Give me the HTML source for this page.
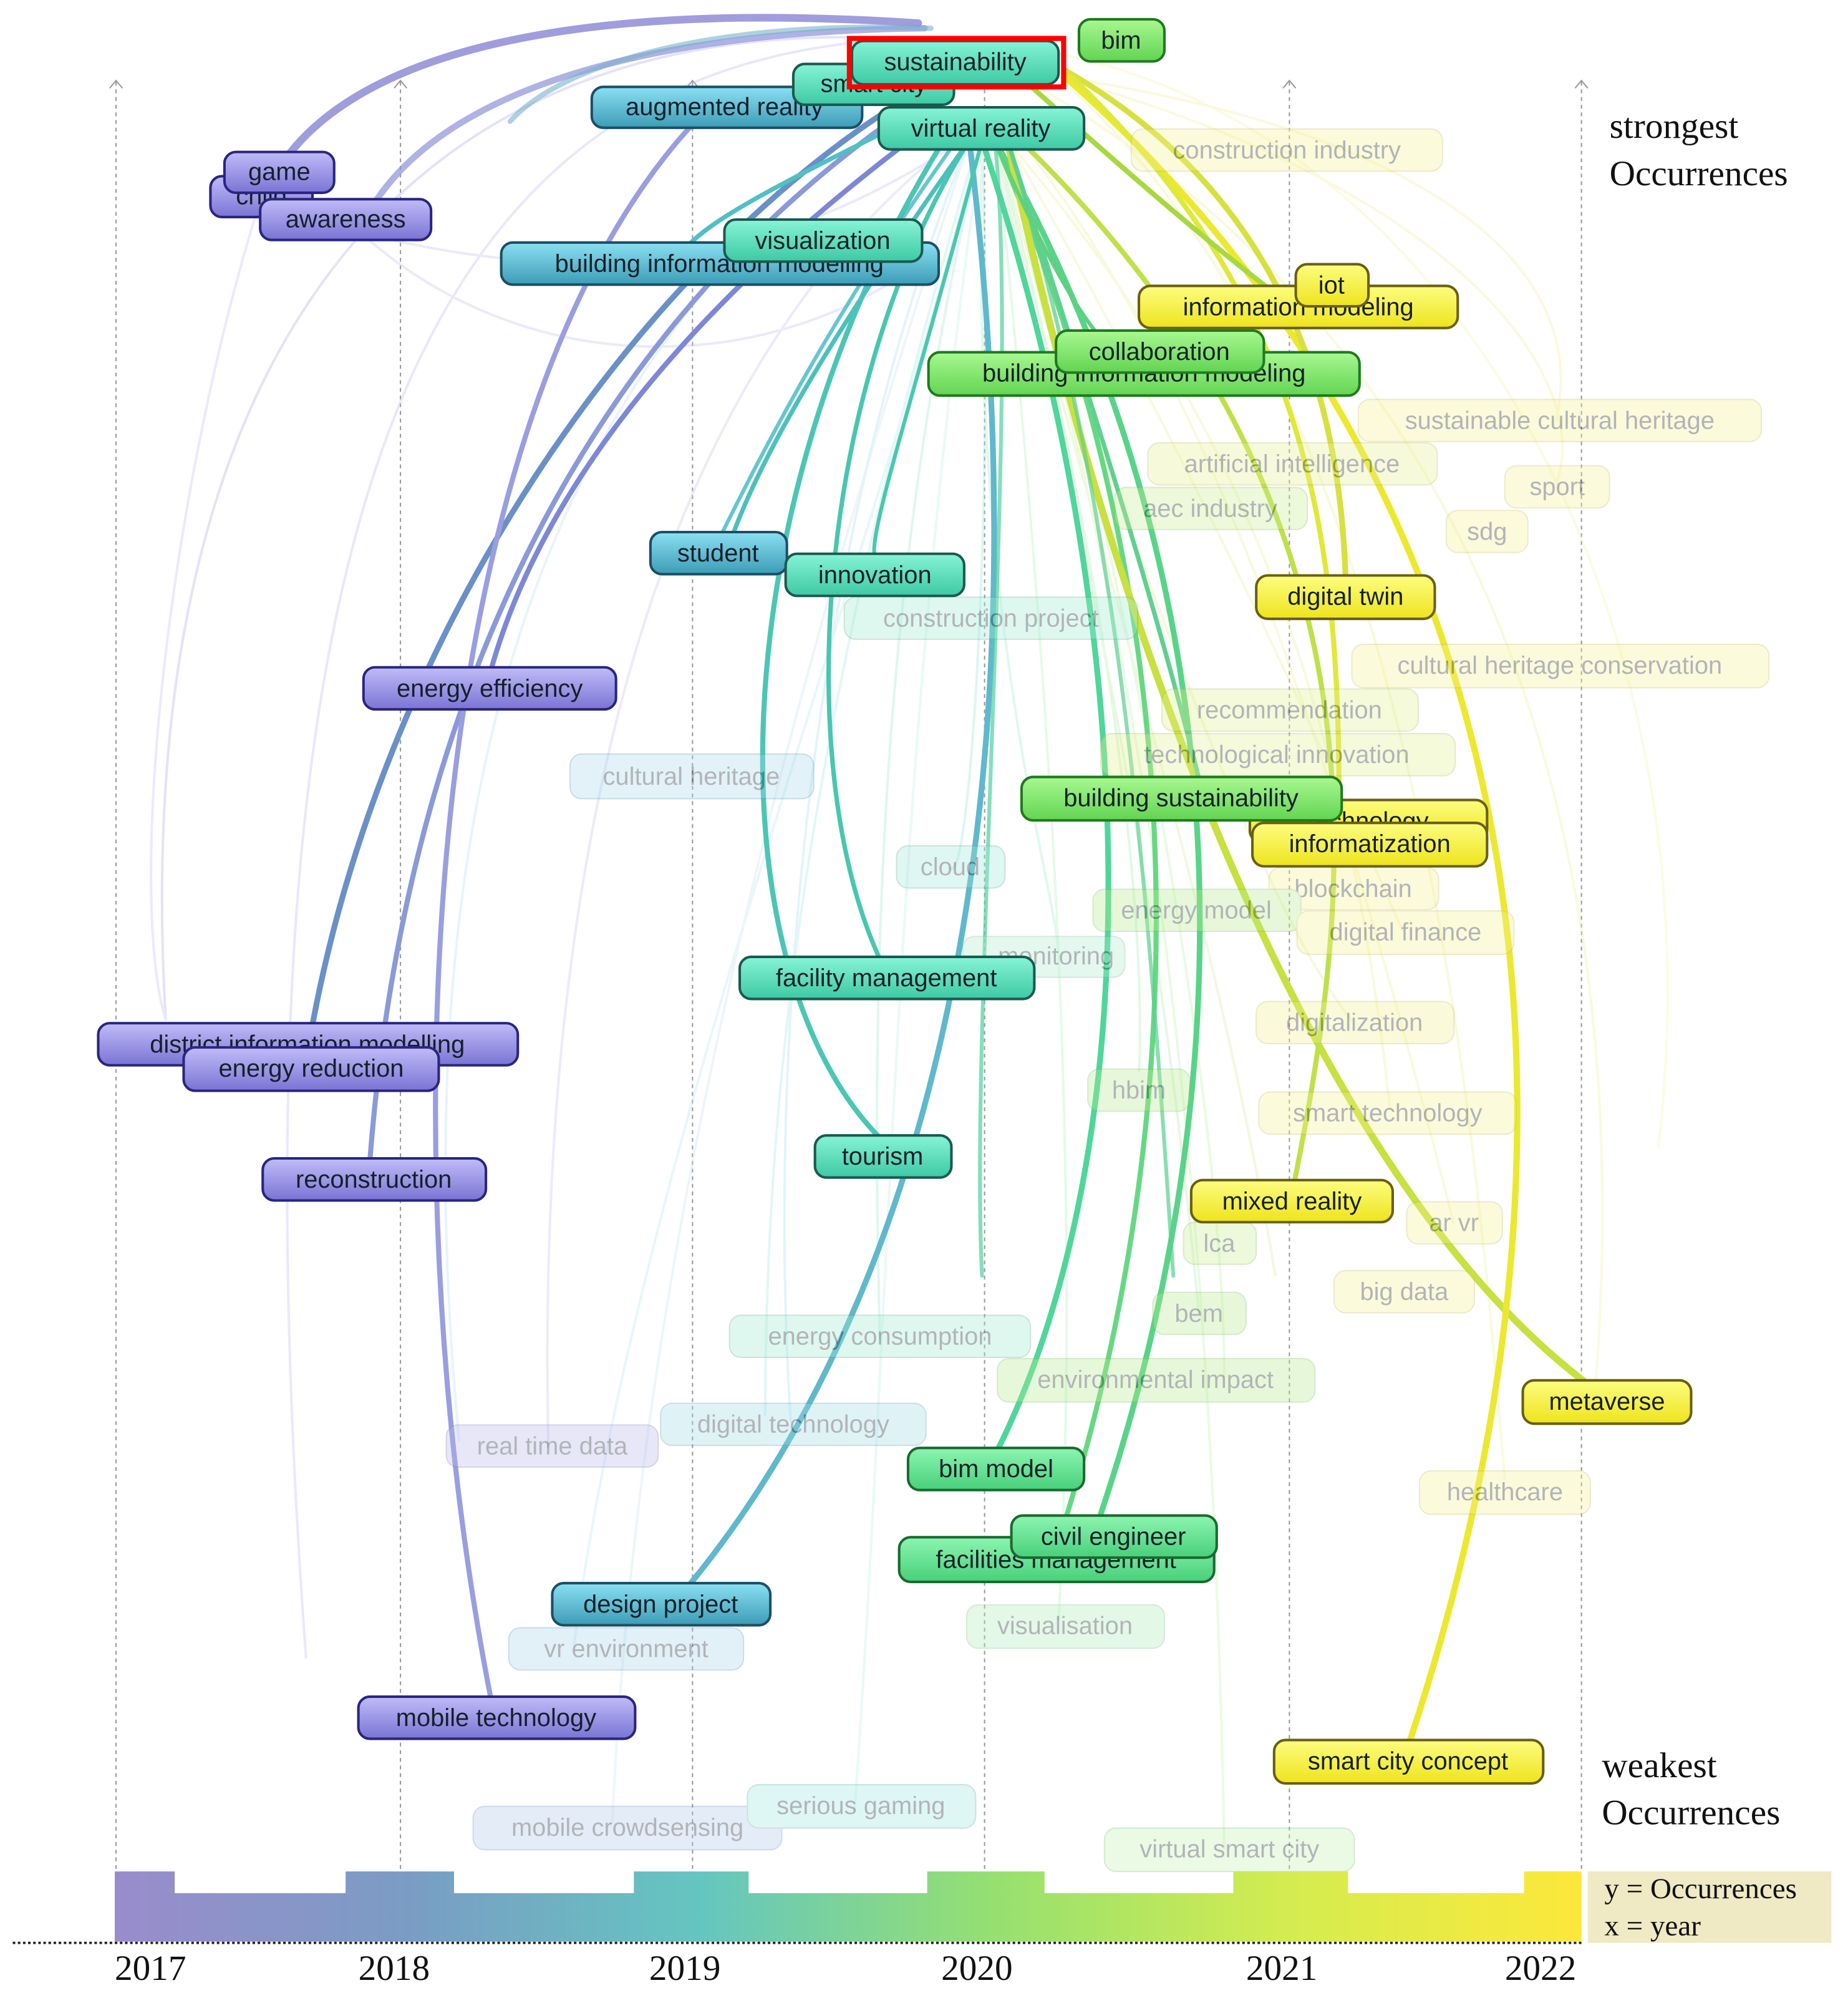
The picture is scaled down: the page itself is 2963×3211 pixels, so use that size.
<!DOCTYPE html>
<html><head><meta charset="utf-8"><style>
html,body{margin:0;padding:0;background:#fff;width:2963px;height:3211px;overflow:hidden}
svg{display:block}
.n text{font-family:"Liberation Sans",sans-serif;font-size:19.5px;fill:#15202a;text-anchor:middle}
.f{opacity:.33}
.yr{font-family:"Liberation Serif",serif;font-size:28px;fill:#111}
.lg{font-family:"Liberation Serif",serif;font-size:28px;fill:#111}
.lg2{font-family:"Liberation Serif",serif;font-size:23px;fill:#111}
</style></head><body>
<svg width="2963" height="3211" viewBox="0 0 1449 1570" xmlns="http://www.w3.org/2000/svg">
<defs>
<linearGradient id="gp" x1="0" y1="0" x2="0" y2="1"><stop offset="0" stop-color="#c0bcf8"/><stop offset="1" stop-color="#7a74d4"/></linearGradient>
<linearGradient id="gb" x1="0" y1="0" x2="0" y2="1"><stop offset="0" stop-color="#8be0f2"/><stop offset="1" stop-color="#3c9cb6"/></linearGradient>
<linearGradient id="gt" x1="0" y1="0" x2="0" y2="1"><stop offset="0" stop-color="#86f4d6"/><stop offset="1" stop-color="#3ec9a4"/></linearGradient>
<linearGradient id="gg" x1="0" y1="0" x2="0" y2="1"><stop offset="0" stop-color="#a8f890"/><stop offset="1" stop-color="#62d452"/></linearGradient>
<linearGradient id="gm" x1="0" y1="0" x2="0" y2="1"><stop offset="0" stop-color="#8cf5b0"/><stop offset="1" stop-color="#48d07a"/></linearGradient>
<linearGradient id="gy" x1="0" y1="0" x2="0" y2="1"><stop offset="0" stop-color="#fdfd80"/><stop offset="1" stop-color="#eee41c"/></linearGradient>
<linearGradient id="bar" x1="0" y1="0" x2="1" y2="0"><stop offset="0" stop-color="#9a8ccc"/><stop offset=".2" stop-color="#7a9cc4"/><stop offset=".4" stop-color="#64c6c0"/><stop offset=".6" stop-color="#96e070"/><stop offset=".8" stop-color="#d4ec50"/><stop offset="1" stop-color="#fde83a"/></linearGradient>
</defs>

<g stroke="#999" stroke-width="1" stroke-dasharray="3,3" fill="none">
<line x1="91" y1="64" x2="91" y2="1468"/><line x1="314" y1="64" x2="314" y2="1468"/><line x1="543" y1="64" x2="543" y2="1468"/><line x1="772" y1="64" x2="772" y2="1468"/><line x1="1011" y1="64" x2="1011" y2="1468"/><line x1="1240" y1="64" x2="1240" y2="1468"/>
</g>
<g stroke="#999" stroke-width="1" fill="none">
<path d="M86,69 L91,63 L96,69"/><path d="M309,69 L314,63 L319,69"/><path d="M538,69 L543,63 L548,69"/><path d="M767,69 L772,63 L777,69"/><path d="M1006,69 L1011,63 L1016,69"/><path d="M1235,69 L1240,63 L1245,69"/>
</g>

<!-- faint edges -->
<g fill="none" stroke-width="2" opacity=".35">
<path d="M700,30 C300,10 100,300 130,800" stroke="#b0aef0"/>
<path d="M720,30 C350,40 170,350 240,1300" stroke="#c0bef5"/>
<path d="M760,60 C500,200 300,500 360,1130" stroke="#bfe0ee"/>
<path d="M770,100 C650,500 600,800 600,1110" stroke="#b0e8e8"/>
<path d="M770,100 C700,400 500,900 450,1290" stroke="#c0e8f0"/>
<path d="M780,100 C820,500 850,900 830,1270" stroke="#b8f0c8"/>
<path d="M800,60 C1050,200 1300,500 1250,1100" stroke="#f0f0a0"/>
<path d="M820,40 C1150,100 1350,500 1300,900" stroke="#f5f5b0"/>
<path d="M830,60 C1100,300 1150,800 1180,1160" stroke="#f0f0a0"/>
<path d="M780,110 C900,500 950,900 960,1450" stroke="#c8f0b0"/>
<path d="M240,170 C500,250 650,180 770,100" stroke="#c8c6f5"/>
<path d="M270,170 C400,300 600,300 730,200" stroke="#c8c6f5"/>
<path d="M780,110 C850,400 950,700 1000,1000" stroke="#d8f0a0"/>
<path d="M770,110 C700,600 700,1000 670,1420" stroke="#c8ecec"/>
<path d="M760,110 C600,600 500,1000 480,1430" stroke="#d0e4f0"/>
<path d="M770,110 C780,400 760,700 745,680" stroke="#a0e8d8"/>
<path d="M770,110 C760,500 830,700 830,750" stroke="#a8ecd0"/>
<path d="M780,110 C860,400 900,700 893,840" stroke="#b0ecb0"/>
<path d="M780,110 C880,400 980,700 1060,800" stroke="#e0f0a0"/>
<path d="M790,110 C900,300 1000,500 1100,730" stroke="#eef0a0"/>
<path d="M790,110 C950,300 1050,500 1090,870" stroke="#eef0a0"/>
<path d="M780,110 C820,300 900,600 940,1030" stroke="#b8ecb0"/>
<path d="M770,110 C700,400 680,700 690,1050" stroke="#a8e8d8"/>
<path d="M760,110 C640,400 600,800 620,1115" stroke="#b0e0ec"/>
<path d="M750,110 C500,300 420,700 430,1135" stroke="#c8c8f0"/>
<path d="M830,60 C1150,150 1250,300 1220,380" stroke="#f5f0a0"/>
<path d="M830,60 C1100,100 1250,200 1220,330" stroke="#f5f0a0"/>
<path d="M800,110 C950,300 1050,600 1140,960" stroke="#f0f0a0"/>
<path d="M790,110 C900,500 960,900 960,1080" stroke="#c8f0b0"/>
<path d="M200,170 C130,400 100,700 130,800" stroke="#c8c6f5"/>
</g>

<!-- main edges -->
<g fill="none" stroke-linecap="round">
<path d="M720,18 C450,0 280,40 220,130" stroke="#8884d4" stroke-width="6" opacity=".8"/>
<path d="M725,22 C480,25 340,80 290,165" stroke="#8c92d8" stroke-width="5" opacity=".7"/>
<path d="M730,22 C560,15 440,50 400,95" stroke="#7ab0cc" stroke-width="4" opacity=".6"/>
<path d="M740,60 C520,180 300,480 242,820" stroke="#6a90c8" stroke-width="4.5"/>
<path d="M720,80 C480,240 320,520 290,910" stroke="#8a9ad8" stroke-width="4"/>
<path d="M740,90 C520,250 420,400 385,525" stroke="#7c88d6" stroke-width="4"/>
<path d="M560,80 C330,300 300,900 385,1332" stroke="#9a9ee0" stroke-width="4"/>
<path d="M760,110 C820,600 740,1000 540,1243" stroke="#60b8cc" stroke-width="4.5"/>
<path d="M740,110 C560,400 560,760 690,892" stroke="#4cc6b4" stroke-width="4"/>
<path d="M760,110 C640,300 620,600 690,752" stroke="#48c6b0" stroke-width="3.5"/>
<path d="M760,110 C660,250 600,350 575,418" stroke="#4cc0bc" stroke-width="3.5"/>
<path d="M770,110 C900,500 900,900 782,1137" stroke="#4fd69a" stroke-width="4.5"/>
<path d="M780,110 C1000,500 960,900 862,1190" stroke="#58d488" stroke-width="4.5"/>
<path d="M780,110 C950,500 930,900 830,1208" stroke="#66d884" stroke-width="4"/>
<path d="M790,110 C850,400 1000,900 1245,1085" stroke="#c8e040" stroke-width="5.5"/>
<path d="M835,60 C1220,400 1260,900 1105,1366" stroke="#ece830" stroke-width="5"/>
<path d="M835,55 C1000,150 1050,300 1055,452" stroke="#d8e040" stroke-width="4.5"/>
<path d="M800,110 C1100,400 1060,700 1015,926" stroke="#c0e04a" stroke-width="4"/>
<path d="M840,60 C1040,250 1050,450 1050,645" stroke="#e0e83a" stroke-width="4"/>
<path d="M790,110 C850,300 900,450 940,610" stroke="#60d090" stroke-width="3.5"/>
<path d="M700,100 C620,140 560,170 540,192" stroke="#50c0c4" stroke-width="3.5"/>
<path d="M800,60 C900,150 960,200 1000,230" stroke="#a8d840" stroke-width="4"/>
<path d="M780,110 C800,300 760,800 770,1000" stroke="#50d0a0" stroke-width="3" opacity=".7"/>
<path d="M790,110 C880,400 900,700 920,1000" stroke="#58d090" stroke-width="3" opacity=".7"/>
<path d="M770,110 C720,300 680,420 686,436" stroke="#48c8b0" stroke-width="3"/>
<path d="M780,110 C840,250 880,300 900,276" stroke="#60d080" stroke-width="3"/>
<path d="M750,110 C650,250 600,350 560,430" stroke="#40b8c0" stroke-width="3" opacity=".8"/>
</g>

<!-- faded nodes -->
<g class="n f">
<rect x="887" y="101" width="244" height="33" rx="9" fill="#f5f090" stroke="#c8c060"/><text x="1009" y="124">construction industry</text>
<rect x="1065" y="313" width="316" height="33" rx="9" fill="#f5f090" stroke="#c8c060"/><text x="1223" y="336">sustainable cultural heritage</text>
<rect x="900" y="347" width="227" height="33" rx="9" fill="#e8f090" stroke="#b8c060"/><text x="1013" y="370">artificial intelligence</text>
<rect x="1180" y="365" width="82" height="33" rx="9" fill="#f5f090" stroke="#c8c060"/><text x="1221" y="388">sport</text>
<rect x="874" y="382" width="151" height="33" rx="9" fill="#c8ee90" stroke="#90c060"/><text x="949" y="405">aec industry</text>
<rect x="1134" y="400" width="64" height="33" rx="9" fill="#f5f090" stroke="#c8c060"/><text x="1166" y="423">sdg</text>
<rect x="662" y="468" width="230" height="33" rx="9" fill="#a0ecd0" stroke="#60b090"/><text x="777" y="491">construction project</text>
<rect x="1060" y="505" width="327" height="34" rx="9" fill="#f5f090" stroke="#c8c060"/><text x="1223" y="528">cultural heritage conservation</text>
<rect x="911" y="540" width="201" height="33" rx="9" fill="#e0f090" stroke="#b0c060"/><text x="1011" y="563">recommendation</text>
<rect x="863" y="575" width="278" height="33" rx="9" fill="#e0f090" stroke="#b0c060"/><text x="1001" y="598">technological innovation</text>
<rect x="447" y="591" width="191" height="35" rx="9" fill="#a8d8ec" stroke="#6098b0"/><text x="542" y="615">cultural heritage</text>
<rect x="703" y="663" width="85" height="33" rx="9" fill="#a0e8d8" stroke="#60b090"/><text x="745" y="686">cloud</text>
<rect x="995" y="680" width="133" height="33" rx="9" fill="#f5f090" stroke="#c8c060"/><text x="1061" y="703">blockchain</text>
<rect x="857" y="697" width="163" height="33" rx="9" fill="#b8ec90" stroke="#80c060"/><text x="938" y="720">energy model</text>
<rect x="1017" y="714" width="170" height="34" rx="9" fill="#f5f090" stroke="#c8c060"/><text x="1102" y="737">digital finance</text>
<rect x="755" y="734" width="127" height="32" rx="9" fill="#b0ecd0" stroke="#80c090"/><text x="828" y="756">monitoring</text>
<rect x="985" y="785" width="155" height="33" rx="9" fill="#f0f090" stroke="#c0c060"/><text x="1062" y="808">digitalization</text>
<rect x="853" y="838" width="80" height="33" rx="9" fill="#b8ec90" stroke="#80c060"/><text x="893" y="861">hbim</text>
<rect x="987" y="856" width="202" height="33" rx="9" fill="#f5f090" stroke="#c8c060"/><text x="1088" y="879">smart technology</text>
<rect x="1103" y="942" width="75" height="33" rx="9" fill="#f5f090" stroke="#c8c060"/><text x="1140" y="965">ar vr</text>
<rect x="928" y="958" width="57" height="33" rx="9" fill="#c8ee90" stroke="#90c060"/><text x="956" y="981">lca</text>
<rect x="1046" y="996" width="110" height="33" rx="9" fill="#f5f090" stroke="#c8c060"/><text x="1101" y="1019">big data</text>
<rect x="904" y="1013" width="73" height="33" rx="9" fill="#b8ec90" stroke="#80c060"/><text x="940" y="1036">bem</text>
<rect x="572" y="1031" width="236" height="33" rx="9" fill="#a0ecd0" stroke="#60b090"/><text x="690" y="1054">energy consumption</text>
<rect x="782" y="1065" width="249" height="34" rx="9" fill="#b8ec90" stroke="#80c060"/><text x="906" y="1088">environmental impact</text>
<rect x="518" y="1100" width="208" height="33" rx="9" fill="#a0dce8" stroke="#60a0b0"/><text x="622" y="1123">digital technology</text>
<rect x="350" y="1117" width="166" height="33" rx="9" fill="#b8b8ec" stroke="#8080c0"/><text x="433" y="1140">real time data</text>
<rect x="1113" y="1153" width="134" height="34" rx="9" fill="#f5f090" stroke="#c8c060"/><text x="1180" y="1176">healthcare</text>
<rect x="758" y="1258" width="155" height="34" rx="9" fill="#b0ecb8" stroke="#80c090"/><text x="835" y="1281">visualisation</text>
<rect x="399" y="1276" width="184" height="33" rx="9" fill="#a8d4ec" stroke="#6098b0"/><text x="491" y="1299">vr environment</text>
<rect x="371" y="1416" width="242" height="34" rx="9" fill="#b0c8ec" stroke="#7090c0"/><text x="492" y="1439">mobile crowdsensing</text>
<rect x="586" y="1399" width="179" height="34" rx="9" fill="#a0e8e0" stroke="#60b0a0"/><text x="675" y="1422">serious gaming</text>
<rect x="866" y="1433" width="196" height="34" rx="9" fill="#c0f0b0" stroke="#80c080"/><text x="964" y="1456">virtual smart city</text>
</g>

<g class="n" stroke-width="2">
<rect x="165" y="138" width="80" height="32" rx="9" fill="url(#gp)" stroke="#2a2580"/><text x="205" y="160">child</text>
<rect x="204" y="156" width="134" height="32" rx="9" fill="url(#gp)" stroke="#2a2580"/><text x="271" y="178">awareness</text>
<rect x="176" y="119" width="86" height="32" rx="9" fill="url(#gp)" stroke="#2a2580"/><text x="219" y="141">game</text>
<rect x="285" y="523" width="198" height="33" rx="9" fill="url(#gp)" stroke="#2a2580"/><text x="384" y="546">energy efficiency</text>
<rect x="77" y="802" width="329" height="33" rx="9" fill="url(#gp)" stroke="#2a2580"/><text x="241" y="825">district information modelling</text>
<rect x="144" y="821" width="200" height="34" rx="9" fill="url(#gp)" stroke="#2a2580"/><text x="244" y="844">energy reduction</text>
<rect x="206" y="908" width="175" height="33" rx="9" fill="url(#gp)" stroke="#2a2580"/><text x="293" y="931">reconstruction</text>
<rect x="281" y="1330" width="217" height="33" rx="9" fill="url(#gp)" stroke="#2a2580"/><text x="389" y="1353">mobile technology</text>
<rect x="464" y="68" width="212" height="32" rx="9" fill="url(#gb)" stroke="#1c4f66"/><text x="568" y="90">augmented reality</text>
<rect x="622" y="50" width="126" height="32" rx="9" fill="url(#gt)" stroke="#1a5a50"/><text x="685" y="72">smart city</text>
<rect x="393" y="190" width="343" height="33" rx="9" fill="url(#gb)" stroke="#1c4f66"/><text x="564" y="213">building information modelling</text>
<rect x="568" y="172" width="155" height="33" rx="9" fill="url(#gt)" stroke="#1a5a50"/><text x="645" y="195">visualization</text>
<rect x="510" y="417" width="107" height="33" rx="9" fill="url(#gb)" stroke="#1c4f66"/><text x="563" y="440">student</text>
<rect x="616" y="434" width="140" height="33" rx="9" fill="url(#gt)" stroke="#1a5a50"/><text x="686" y="457">innovation</text>
<rect x="433" y="1241" width="171" height="33" rx="9" fill="url(#gb)" stroke="#1c4f66"/><text x="518" y="1264">design project</text>
<rect x="668" y="32" width="162" height="34" rx="9" fill="url(#gt)" stroke="#1a5a50"/><text x="749" y="55">sustainability</text>
<rect x="666" y="30" width="168" height="38" fill="none" stroke="#ff0000" stroke-width="4"/>
<rect x="689" y="84" width="161" height="33" rx="9" fill="url(#gt)" stroke="#1a5a50"/><text x="769" y="107">virtual reality</text>
<rect x="580" y="750" width="231" height="33" rx="9" fill="url(#gt)" stroke="#1a5a50"/><text x="695" y="773">facility management</text>
<rect x="639" y="890" width="107" height="33" rx="9" fill="url(#gt)" stroke="#1a5a50"/><text x="692" y="913">tourism</text>
<rect x="712" y="1135" width="138" height="33" rx="9" fill="url(#gm)" stroke="#1a6a30"/><text x="781" y="1158">bim model</text>
<rect x="846" y="15" width="67" height="33" rx="9" fill="url(#gg)" stroke="#1f7a1f"/><text x="879" y="38">bim</text>
<rect x="728" y="276" width="338" height="34" rx="9" fill="url(#gg)" stroke="#1f7a1f"/><text x="897" y="299">building information modeling</text>
<rect x="828" y="259" width="163" height="33" rx="9" fill="url(#gg)" stroke="#1f7a1f"/><text x="909" y="282">collaboration</text>
<rect x="705" y="1205" width="247" height="35" rx="9" fill="url(#gm)" stroke="#1a6a30"/><text x="828" y="1229">facilities management</text>
<rect x="793" y="1188" width="161" height="33" rx="9" fill="url(#gm)" stroke="#1a6a30"/><text x="873" y="1211">civil engineer</text>
<rect x="893" y="224" width="250" height="33" rx="9" fill="url(#gy)" stroke="#6a6010"/><text x="1018" y="247">information modeling</text>
<rect x="1016" y="207" width="57" height="33" rx="9" fill="url(#gy)" stroke="#6a6010"/><text x="1044" y="230">iot</text>
<rect x="985" y="451" width="140" height="34" rx="9" fill="url(#gy)" stroke="#6a6010"/><text x="1055" y="474">digital twin</text>
<rect x="980" y="627" width="186" height="33" rx="9" fill="url(#gy)" stroke="#6a6010"/><text x="1073" y="650">technology</text>
<rect x="982" y="645" width="184" height="34" rx="9" fill="url(#gy)" stroke="#6a6010"/><text x="1074" y="668">informatization</text>
<rect x="801" y="609" width="251" height="34" rx="9" fill="url(#gg)" stroke="#1f7a1f"/><text x="926" y="632">building sustainability</text>
<rect x="934" y="925" width="158" height="33" rx="9" fill="url(#gy)" stroke="#6a6010"/><text x="1013" y="948">mixed reality</text>
<rect x="1194" y="1082" width="132" height="34" rx="9" fill="url(#gy)" stroke="#6a6010"/><text x="1260" y="1105">metaverse</text>
<rect x="999" y="1364" width="211" height="34" rx="9" fill="url(#gy)" stroke="#6a6010"/><text x="1104" y="1387">smart city concept</text>
</g>

<text class="lg" x="1262" y="108">strongest</text>
<text class="lg" x="1262" y="145">Occurrences</text>
<text class="lg" x="1256" y="1393">weakest</text>
<text class="lg" x="1256" y="1430">Occurrences</text>

<path d="M90,1467 H137 V1484 H271 V1467 H356 V1484 H497 V1467 H587 V1484 H727 V1467 H819 V1484 H967 V1467 H1057 V1484 H1195 V1467 H1240 V1522 H90 Z" fill="url(#bar)"/>
<rect x="1245" y="1467" width="191" height="56" fill="#efe9c4"/>
<text class="lg2" x="1258" y="1488">y = Occurrences</text>
<text class="lg2" x="1258" y="1517">x = year</text>
<line x1="10" y1="1523" x2="1240" y2="1523" stroke="#222" stroke-width="1.8" stroke-dasharray="2,2"/>
<text class="yr" x="90" y="1552">2017</text>
<text class="yr" x="281" y="1552">2018</text>
<text class="yr" x="509" y="1552">2019</text>
<text class="yr" x="738" y="1552">2020</text>
<text class="yr" x="977" y="1552">2021</text>
<text class="yr" x="1180" y="1552">2022</text>
</svg>
</body></html>
